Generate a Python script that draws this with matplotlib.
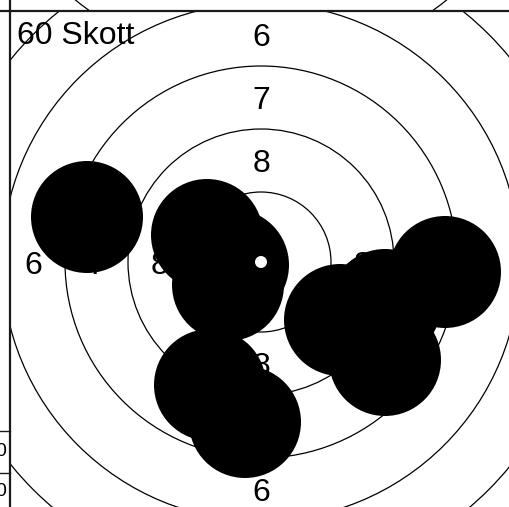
import matplotlib
matplotlib.use("Agg")
import matplotlib.pyplot as plt
from matplotlib.patches import Circle

plt.rcParams["font.family"] = ["Liberation Sans", "DejaVu Sans"]

W, H = 509, 507
# target frame, pixel units, centre of target at (0, 0), y up
RING_R = [7, 70, 133, 196, 259, 322, 385]
LABEL_VALUES = [8, 7, 6]
LABEL_R = [101.5, 164.5, 227.5]
SHOT_X = [-174, -54, -28, -33, -51, -16, 79, 124, 124, 184]
SHOT_Y = [45, 27, -3, -23, -123, -160, -58, -98, -43, -10]
SHOT_R = 56
TITLE = "60 Skott"
SIDE_TABLE = ["0", "0"]

INK = "#1a1a1a"

fig = plt.figure(figsize=(W / 100, H / 100), dpi=100)
fig.patch.set_facecolor("white")

# ---- main target panel ----
left, top = 10, 10
ax = fig.add_axes([left / W, 0, (W - left) / W, (H - top) / H])
cx, cy = 261, 262
ax.set_xlim(left - cx, W - cx)
ax.set_ylim(cy - H, cy - top)
ax.set_aspect("equal")
ax.axis("off")

for r in RING_R[1:]:
    ax.add_patch(Circle((0, 0), r, fill=False, ec="black", lw=0.9, zorder=1))

for v, r in zip(LABEL_VALUES, LABEL_R):
    for dx, dy in [(0, r), (0, -r), (-r, 0), (r, 0)]:
        ax.text(dx, dy, str(v), fontsize=23, color="black",
                ha="center", va="center_baseline", zorder=2)

for x, y in zip(SHOT_X, SHOT_Y):
    ax.add_patch(Circle((x, y), SHOT_R, fc="black", ec="none", zorder=3))

# centre dot sits above the shots
ax.add_patch(Circle((0, 0), RING_R[0] - 1, fc="white", ec="none", zorder=4))

ax.text(17 - cx, cy - 32, TITLE, fontsize=23, color="black",
        ha="left", va="center_baseline", zorder=5)

# ---- frame and neighbouring panels (screen pixels) ----
over = fig.add_axes([0, 0, 1, 1], zorder=10)
over.set_xlim(0, W); over.set_ylim(H, 0); over.axis("off")
over.plot([0, W], [10.5, 10.5], color=INK, lw=1.6, solid_capstyle="butt")
over.plot([10.5, 10.5], [0, H], color=INK, lw=1.6, solid_capstyle="butt")
for y in [430.5, 472.5]:
    over.plot([0, 10.5], [y, y], color=INK, lw=1.0)
for y, t in zip([451, 492], SIDE_TABLE):
    over.text(6.5, y, t, fontsize=14, ha="right", va="center", color="black")

# ring of the panel above, peeking through the top strip
topax = fig.add_axes([0, (H - 10) / H, 1, 10 / H])
topax.set_xlim(0, W); topax.set_ylim(10, 0); topax.axis("off")
topax.add_patch(Circle((261, -228), 294, fill=False, ec="black", lw=0.9))

fig.savefig("out.png", dpi=100, facecolor="white")
